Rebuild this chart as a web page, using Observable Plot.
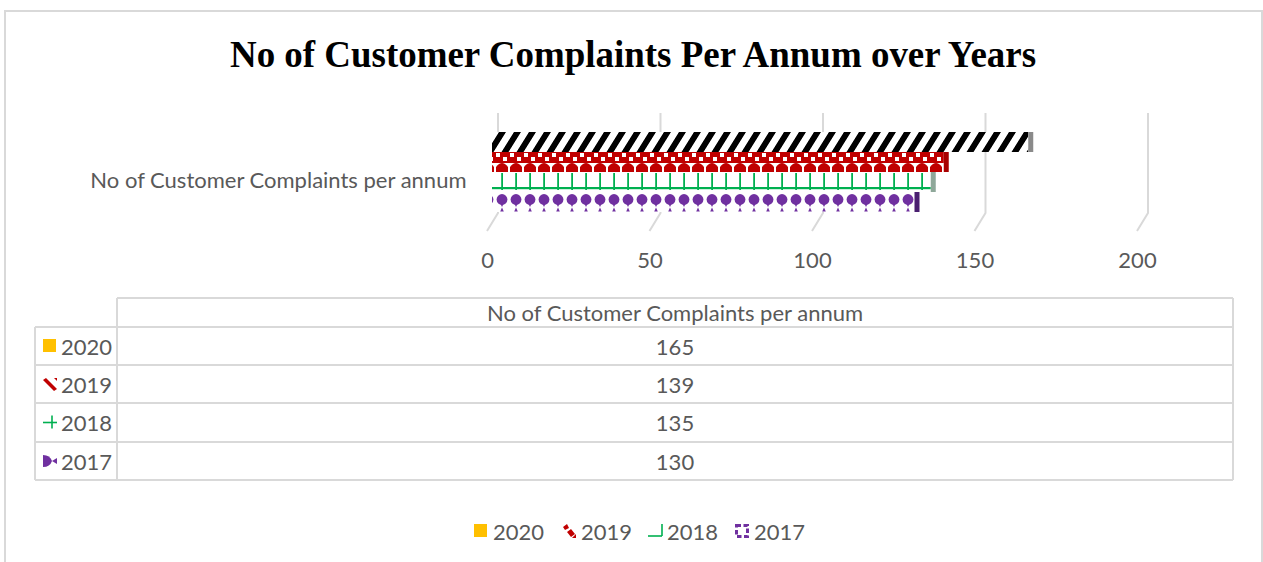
<!DOCTYPE html>
<html><head><meta charset="utf-8">
<script src="https://cdn.jsdelivr.net/npm/d3@7"></script>
<script src="https://cdn.jsdelivr.net/npm/@observablehq/plot@0.6"></script>
<style>
html,body{margin:0;padding:0;background:#fff}
body{width:1263px;height:562px;overflow:hidden;position:relative;font-family:Lato,"Open Sans",sans-serif;color:#595959}
#frame{position:absolute;left:4px;top:10px;width:1259px;height:600px;border:2px solid #d9d9d9;box-sizing:border-box}
#title{position:absolute;left:0;width:1266px;text-align:center;font-family:"Liberation Serif",serif;font-weight:bold;color:#000;white-space:nowrap}
#chart{position:absolute;left:0;top:100px}
#overlay{position:absolute;left:0;top:0}
</style>
</head><body>
<div id="frame"></div>
<div id="title"></div>
<div id="chart"></div>
<svg id="overlay" width="1263" height="562"></svg>
<svg id="defs" width="0" height="0" style="position:absolute"></svg>
<script>
// ---- data ----
const title = "No of Customer Complaints Per Annum over Years";
const category = "No of Customer Complaints per annum";
const years = ["2020", "2019", "2018", "2017"];
const complaints = [165, 139, 135, 130];
const xTicks = [0, 50, 100, 150, 200];

// ---- style ----
const seriesColors = {"2020": "#FFC000", "2019": "#C00000", "2018": "#00B050", "2017": "#7030A0"};
const capColors = {"2020": "#8a8a8a", "2019": "#a80000", "2018": "#8fa89a", "2017": "#4a1f70"};
const textColor = "#595959";
const gridColor = "#d9d9d9";

function fitSize(text, weight, family, target) {
  const c = document.createElement("canvas").getContext("2d");
  c.font = `${weight} 100px ${family}`;
  return 100 * target / c.measureText(text).width;
}
const labelFont = 'Lato';
const fs = Math.min(22, fitSize(category, "normal", labelFont, 379));
let titleFs = fitSize(title, "bold", '"Liberation Serif"', 812);
if (!(titleFs > 20 && titleFs < 50)) titleFs = 36;

const t = document.getElementById("title");
t.textContent = title;
t.style.fontSize = titleFs + "px";
t.style.lineHeight = titleFs + "px";
t.style.top = (68 - 0.8375 * titleFs) + "px";

const data = years.map((y, i) => ({year: y, value: complaints[i], fill: `url(#pat${y})`, cap: capColors[y]}));

// 3D gridlines (back wall + floor edge)
const grid = (index, scales, values, dims) => {
  const g = d3.create("svg:g");
  for (const v of xTicks) {
    const xf = scales.x(v), xb = xf + 11;
    g.append("path")
      .attr("d", `M${xb},${dims.marginTop}V${dims.marginTop + 100}L${xf},${dims.height - dims.marginBottom}`)
      .attr("fill", "none").attr("stroke", gridColor).attr("stroke-width", 2);
  }
  return g.node();
};

const plot = Plot.plot({
  width: 1263,
  height: 180,
  marginTop: 13,
  marginBottom: 49,
  marginLeft: 487,
  marginRight: 126,
  style: {color: textColor, fontFamily: labelFont, fontSize: fs + "px", background: "transparent", overflow: "visible"},
  x: {domain: [0, 200], ticks: xTicks, label: null},
  y: {domain: years, range: [32, 112], padding: 0, axis: null},
  color: {type: "identity"},
  marks: [
    grid,
    Plot.barX(data, {x: "value", y: "year", fill: "fill", dx: 5}),
    Plot.barX(data, {x1: "value", x2: "value", y: "year", fill: "cap", dx: 5, insetRight: -5}),
    Plot.axisX({ticks: xTicks, tickSize: 0, tickPadding: 21, fontSize: fs, label: null}),
    Plot.text([category], {text: d => d, frameAnchor: "left", textAnchor: "end", dx: -21, dy: 8, fontSize: fs, fill: textColor})
  ]
});
document.getElementById("chart").appendChild(plot);

// patterns aligned to each band
const ys = plot.scale("y");
const bw = 20;
const defs = d3.select("#defs").append("defs");
function pat(id, year, w, extra) {
  const p = defs.append("pattern").attr("id", id).attr("patternUnits", "userSpaceOnUse")
    .attr("x", 0).attr("y", ys.apply(year)).attr("width", w).attr("height", bw);
  if (extra) p.attr("patternTransform", extra);
  p.append("rect").attr("width", w).attr("height", bw).attr("fill", "#fff");
  return p;
}
{ // 2020: wide black upward diagonal
  const p = pat("pat2020", "2020", 15, "skewX(-32)");
  p.append("rect").attr("x", 4).attr("width", 7).attr("height", bw).attr("fill", "#000");
}
{ // 2019: red checker / arches
  const p = pat("pat2019", "2019", 14);
  const c = seriesColors["2019"];
  p.append("rect").attr("width", 14).attr("height", 11).attr("fill", c);
  p.append("rect").attr("x", 1).attr("y", 1).attr("width", 4).attr("height", 4).attr("fill", "#fff");
  p.append("rect").attr("x", 8).attr("y", 5).attr("width", 4).attr("height", 4).attr("fill", "#fff");
  p.append("path").attr("d", "M1,20V15Q7,7 13,15V20Z").attr("fill", c);
}
{ // 2018: green comb
  const p = pat("pat2018", "2018", 14);
  const c = seriesColors["2018"];
  p.append("rect").attr("x", 6.2).attr("y", 1).attr("width", 1.8).attr("height", 17).attr("fill", c);
  p.append("rect").attr("x", 0).attr("y", 15).attr("width", 14).attr("height", 2.2).attr("fill", c);
}
{ // 2017: purple drops
  const p = pat("pat2017", "2017", 14);
  const c = seriesColors["2017"];
  p.append("circle").attr("cx", 7).attr("cy", 7.5).attr("r", 5.4).attr("fill", c);
  p.append("path").attr("d", "M7,15L4.5,10H9.5Z").attr("fill", c);
  p.append("path").attr("d", "M7,15.5L5.2,19.5H8.8Z").attr("fill", c);
}

// ---- data table and legend ----
const ov = d3.select("#overlay");
const line = (x1, y1, x2, y2) => ov.append("line").attr("x1", x1).attr("y1", y1).attr("x2", x2).attr("y2", y2)
  .attr("stroke", gridColor).attr("stroke-width", 2);
const rowY = [327, 365, 403, 442, 480];
line(117, 298, 1233, 298);
for (const y of rowY) line(35, y, 1233, y);
line(35, 327, 35, 480);
line(117, 298, 117, 480);
line(1233, 298, 1233, 480);
const txt = (x, y, s, anchor) => ov.append("text").attr("x", x).attr("y", y).attr("text-anchor", anchor || "middle")
  .attr("dominant-baseline", "central").attr("fill", textColor).attr("font-family", labelFont).attr("font-size", fs).text(s);
txt(675, 312, category);

function key(g, year, kind) {
  const c = seriesColors[year];
  if (year === "2020") g.append("rect").attr("x", 0).attr("y", 0).attr("width", 13).attr("height", 13).attr("fill", c);
  else if (year === "2019") {
    if (kind === "table") {
      g.append("path").attr("d", "M0,3L3,1L14,12L11,14Z").attr("fill", c);
      g.append("path").attr("d", "M11,1H14V4Z").attr("fill", c);
    } else {
      g.append("path").attr("d", "M1,3L5,0L7,4L3,6Z M5,8L9,5L13,10L9,13Z M10,14L14,14L14,10Z").attr("fill", c);
    }
  } else if (year === "2018") {
    if (kind === "table") {
      g.append("line").attr("x1", 0).attr("x2", 14).attr("y1", 7).attr("y2", 7).attr("stroke", c).attr("stroke-width", 1.6);
      g.append("line").attr("x1", 9).attr("x2", 9).attr("y1", 0).attr("y2", 13).attr("stroke", c).attr("stroke-width", 1.6);
    } else {
      g.append("line").attr("x1", 0).attr("x2", 14).attr("y1", 12).attr("y2", 12).attr("stroke", c).attr("stroke-width", 1.6);
      g.append("line").attr("x1", 14).attr("x2", 14).attr("y1", 0).attr("y2", 12).attr("stroke", c).attr("stroke-width", 1.6);
    }
  } else {
    if (kind === "table") {
      g.append("path").attr("d", "M0,1Q7,1 9,7Q7,13 0,13Z").attr("fill", c);
      g.append("path").attr("d", "M9,7L14,4V10Z").attr("fill", c);
    } else {
      g.append("rect").attr("x", 1.5).attr("y", 1.5).attr("width", 11).attr("height", 11).attr("fill", "none")
        .attr("stroke", c).attr("stroke-width", 3).attr("stroke-dasharray", "4.5 2.5");
    }
  }
}

years.forEach((y, i) => {
  const cy = (rowY[i] + rowY[i + 1]) / 2;
  key(ov.append("g").attr("transform", `translate(43,${cy - 7})`), y, "table");
  txt(61, cy, y, "start");
  txt(675, cy, complaints[i]);
});

const legX = [474, 562, 648, 735];
years.forEach((y, i) => {
  key(ov.append("g").attr("transform", `translate(${legX[i]},${524})`), y, "legend");
  txt(legX[i] + 19, 531, y, "start");
});
</script>
</body></html>
